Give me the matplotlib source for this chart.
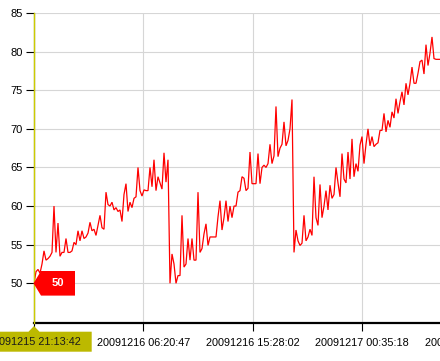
import datetime as dt
import numpy as np
import matplotlib
matplotlib.use("Agg")
import matplotlib.pyplot as plt
import matplotlib.dates as mdates
from matplotlib.patches import Polygon
from matplotlib.transforms import IdentityTransform

plt.rcParams['font.family'] = ['Liberation Sans', 'DejaVu Sans']

# ---------------- data ----------------
start_time = dt.datetime(2009, 12, 15, 21, 13, 42)
sample_seconds = 600

seg1 = [50.0, 51.5, 51.8, 51.3, 52.5, 54.2, 53.0, 53.2, 53.5, 54.0,
        60.0, 54.0, 57.8, 53.5, 54.0, 54.0, 55.8, 54.0, 54.0, 54.2,
        55.3, 55.0, 56.8, 55.5, 56.8, 55.8, 56.0, 56.5, 57.9, 56.8,
        57.0, 56.2, 57.5, 58.8, 57.2, 57.0, 61.8, 60.2, 60.0, 60.5,
        59.5, 59.8, 59.3, 59.5, 58.0, 61.5, 62.9, 59.3, 60.5, 59.8,
        61.0, 61.2, 65.0, 62.0, 61.3, 62.1, 62.0, 62.0, 65.0, 62.5,
        66.0, 62.0, 63.8, 63.0, 62.2, 66.9, 63.1, 66.0]
seg2 = [50.0, 53.8, 52.5, 50.0, 51.0, 51.0, 58.8, 52.1, 52.5, 55.8,
        53.0, 55.8, 53.0, 53.0, 61.8, 54.0, 54.5, 56.4, 57.7, 54.9,
        56.0, 56.0, 56.0, 56.0, 58.6, 60.7, 56.9, 58.5, 60.7, 58.0,
        60.0, 58.5, 60.0, 60.0, 61.8, 62.0, 63.8, 63.6, 62.0, 62.3,
        67.0, 62.9, 62.9, 62.9, 66.8, 62.9, 65.0, 65.3, 65.0, 65.5,
        68.0, 65.5, 66.5, 72.9, 66.4, 67.5, 68.0, 70.9, 67.8, 68.5,
        70.0, 73.8]
seg3 = [54.0, 56.9, 55.5, 54.9, 55.2, 58.8, 55.5, 56.0, 57.0, 56.2,
        63.8, 58.5, 57.5, 62.8, 58.5, 60.0, 62.0, 59.5, 62.7, 61.0,
        61.5, 65.0, 63.0, 61.2, 66.8, 63.5, 63.0, 67.0, 63.5, 68.7,
        63.8, 65.5, 64.5, 67.9, 69.0, 65.5, 68.0, 70.0, 67.8, 69.0,
        67.7, 68.0, 68.2, 69.8, 69.8, 72.0, 69.6, 71.1, 70.2, 72.2,
        71.4, 73.9, 72.0, 73.5, 74.8, 73.1, 75.9, 74.4, 75.9, 78.0,
        75.9, 75.9, 77.2, 78.7, 78.9, 77.1, 80.9, 78.2, 79.8, 81.9,
        79.1, 79.0, 79.0, 79.0, 79.0]

tick_times = ["2009-12-15 21:13:42", "2009-12-16 06:20:47", "2009-12-16 15:28:02",
              "2009-12-17 00:35:18", "2009-12-17 09:42:33"]
tick_labels = ["", "20091216 06:20:47", "20091216 15:28:02",
               "20091217 00:35:18", "20091217 09:42:33"]
y_ticks = [50, 55, 60, 65, 70, 75, 80, 85]
cursor_value = 50
cursor_label = "50"
cursor_time_label = "20091215 21:13:42"

values = np.array(seg1 + seg2 + seg3, dtype=float)
times = [start_time + dt.timedelta(seconds=sample_seconds * i) for i in range(len(values))]
tnum = mdates.date2num(times)

# ---------------- figure ----------------
W, H = 440, 361
fig = plt.figure(figsize=(W / 100, H / 100), dpi=100)
fig.patch.set_facecolor('white')
ax_left, ax_bottom, ax_w, ax_h = 34, 38, 480, 310
ax = fig.add_axes([ax_left / W, ax_bottom / H, ax_w / W, ax_h / H])

t0 = mdates.date2num(start_time)
t1 = mdates.date2num(start_time + dt.timedelta(seconds=300 * ax_w))
ax.set_xlim(t0, t1)
ax.set_ylim(44.86, 85)

ax.plot(tnum, values, color='#ff0000', lw=0.9, zorder=3, solid_joinstyle='miter')

xt = mdates.date2num([dt.datetime.strptime(s, "%Y-%m-%d %H:%M:%S") for s in tick_times])
ax.set_xticks(xt)
ax.set_xticklabels(tick_labels)
ax.set_yticks(y_ticks)
ax.set_yticklabels([str(v) for v in y_ticks])

ax.grid(True, color='#d6d6d6', lw=0.8)
ax.set_axisbelow(True)

for s in ['top', 'right']:
    ax.spines[s].set_visible(False)
ax.spines['bottom'].set_linewidth(1.6)
ax.spines['left'].set_linewidth(0.8)

ax.tick_params(axis='x', direction='out', length=6, width=0.8, pad=4.5,
               labelsize=7.8, colors='black')
ax.tick_params(axis='y', direction='out', length=5.8, width=0.8, pad=2.2,
               labelsize=8.0, colors='black')

# crosshair line on the y axis
ax.axvline(t0, color='#cccc00', lw=1.0, zorder=4, clip_on=False)

fig.canvas.draw()
px, py = ax.transData.transform((t0, cursor_value))
ident = IdentityTransform()

# red value marker
hh = 12.3
poly = Polygon([(px - 0.5, py), (px + 7, py + hh), (px + 41, py + hh),
                (px + 41, py - hh), (px + 7, py - hh)], closed=True,
               facecolor='#ff0000', edgecolor='none', transform=ident,
               zorder=10, clip_on=False)
fig.add_artist(poly)
fig.text(px + 23.5, py, cursor_label, transform=ident, ha='center', va='center',
         color='white', fontsize=8, fontweight='bold', zorder=11)

# olive time label box
bx, by = ax.transData.transform((t0, 44.86))
box = Polygon([(bx - 45, by - 28.7), (bx + 57.7, by - 28.7), (bx + 57.7, by - 8.7),
               (bx + 5.5, by - 8.7), (bx, by - 3), (bx - 5.5, by - 8.7),
               (bx - 45, by - 8.7)], closed=True, facecolor='#bcb900',
              edgecolor='none', transform=ident, zorder=10, clip_on=False)
fig.add_artist(box)
fig.text(bx, by - 18.7, cursor_time_label, transform=ident, ha='center', va='center',
         color='#1a1a1a', fontsize=7.8, zorder=11)

fig.savefig('out.png', dpi=100)
